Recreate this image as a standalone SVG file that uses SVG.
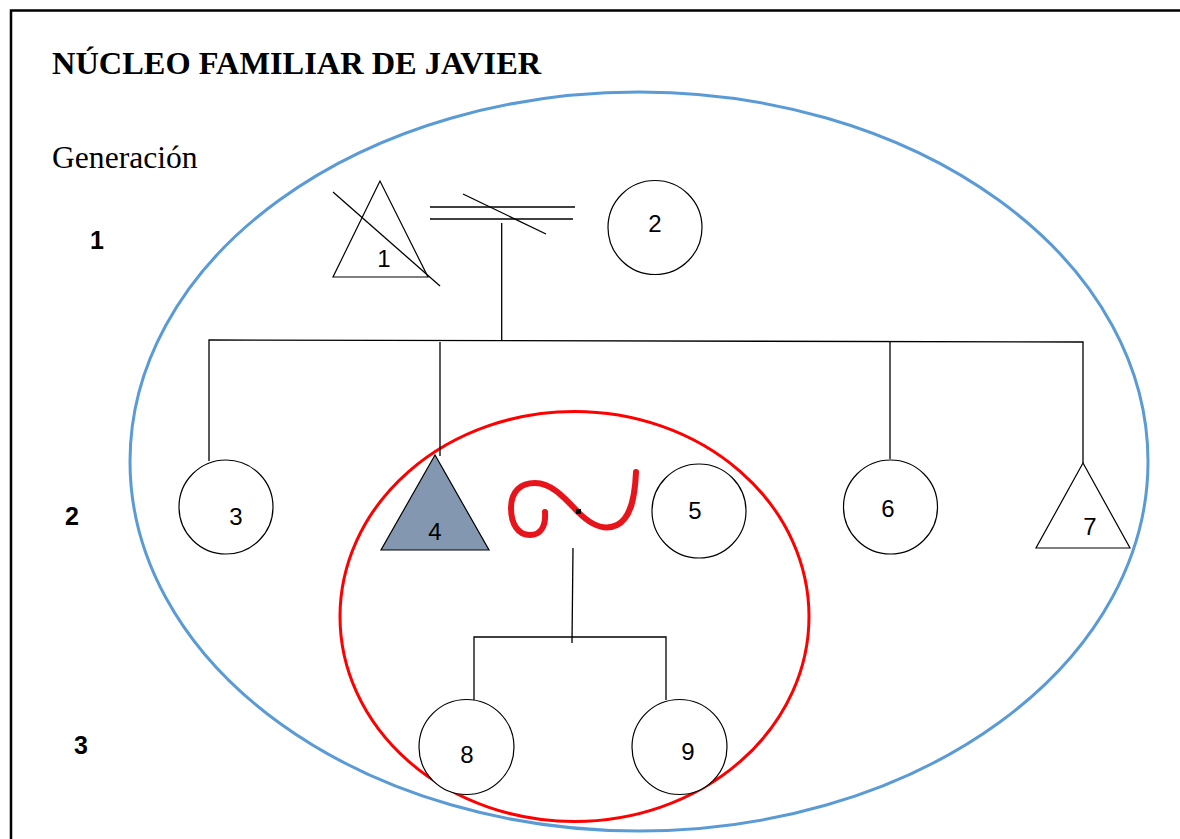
<svg xmlns="http://www.w3.org/2000/svg" width="1180" height="839" viewBox="0 0 1180 839">
<style>
.ln{stroke:#000;stroke-width:1.3;fill:none}
.sym{stroke:#000;stroke-width:1.2;fill:#fff}
.lbl{font-family:"Liberation Sans",Arial,sans-serif;font-size:24px;fill:#000;text-anchor:middle}
.gen{font-family:"Liberation Sans",Arial,sans-serif;font-size:25px;font-weight:bold;fill:#000}
</style>
<rect width="1180" height="839" fill="#fff"/>
<path d="M11,839 V10.5 H1180" stroke="#000" stroke-width="2.5" fill="none"/>
<text x="52" y="74" font-family="'Liberation Serif','Times New Roman',serif" font-size="32.4" font-weight="bold">NÚCLEO FAMILIAR DE JAVIER</text>
<text x="52" y="168" font-family="'Liberation Serif','Times New Roman',serif" font-size="31.6">Generación</text>
<text class="gen" x="90" y="249">1</text>
<text class="gen" x="65" y="525">2</text>
<text class="gen" x="74" y="754">3</text>
<ellipse id="outer" cx="639" cy="461.5" rx="509" ry="369.5" fill="none" stroke="#5b9bd5" stroke-width="3"/>
<ellipse id="inner" cx="574.5" cy="616.5" rx="234.5" ry="205" fill="none" stroke="#ff0000" stroke-width="3"/>
<g id="connectors">
<line class="ln" x1="430" y1="207" x2="575" y2="207"/>
<line class="ln" x1="430" y1="219" x2="573" y2="219"/>
<line class="ln" x1="463" y1="194" x2="546" y2="234"/>
<line class="ln" x1="501.7" y1="223" x2="501.7" y2="340"/>
<polyline class="ln" points="209,461 209,340 1083,342 1083,463"/>
<line class="ln" x1="440" y1="342" x2="440" y2="456"/>
<line class="ln" x1="890" y1="342" x2="890" y2="459"/>
<line class="ln" x1="573" y1="548" x2="572" y2="643"/>
<polyline class="ln" points="474,700 474,637 666,637 666,700"/>
</g>
<g id="n1">
<polygon class="sym" points="380,181 333,277 428,277"/>
<line class="ln" x1="333" y1="192" x2="440" y2="286"/>
<text class="lbl" x="384" y="267">1</text>
</g>
<g id="n2"><circle class="sym" cx="655" cy="227.5" r="47"/><text class="lbl" x="655" y="232">2</text></g>
<g id="n3"><circle class="sym" cx="226" cy="507" r="47"/><text class="lbl" x="236" y="525">3</text></g>
<g id="n4"><polygon points="435,455 381,550 489,550" fill="#8497b0" stroke="#000" stroke-width="1.2"/><text class="lbl" x="435" y="540">4</text></g>
<g id="rel">
<path d="M545,512 C546,526 541,535 530,535 C518,535 511,524 511,508 C511,491 521,483 535,483 C551,483 563,496 578,512 C592,526 605,531 617,525 C631,518 635,497 636,472" fill="none" stroke="#e8141c" stroke-width="6" stroke-linecap="round" stroke-linejoin="round"/>
<rect x="576" y="509" width="5" height="5" fill="#000"/>
</g>
<g id="n5"><circle class="sym" cx="699" cy="511" r="47"/><text class="lbl" x="695" y="519">5</text></g>
<g id="n6"><circle class="sym" cx="890.5" cy="507" r="47"/><text class="lbl" x="888" y="517">6</text></g>
<g id="n7"><polygon class="sym" points="1083,463 1036,548 1130,548"/><text class="lbl" x="1090" y="535">7</text></g>
<g id="n8"><circle class="sym" cx="466.5" cy="747" r="47.5"/><text class="lbl" x="467" y="763">8</text></g>
<g id="n9"><circle class="sym" cx="679.5" cy="747" r="47.5"/><text class="lbl" x="688" y="760">9</text></g>
</svg>
